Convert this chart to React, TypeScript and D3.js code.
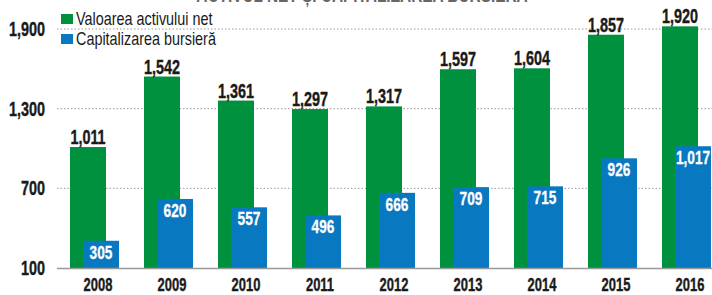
import React, { useEffect, useRef } from "react";
import * as d3 from "d3";

const years = ["2008", "2009", "2010", "2011", "2012", "2013", "2014", "2015", "2016"];
const netAssets = [1011, 1542, 1361, 1297, 1317, 1597, 1604, 1857, 1920];
const marketCap = [305, 620, 557, 496, 666, 709, 715, 926, 1017];
const yTicks = [100, 700, 1300, 1900];
const seriesNames = ["Valoarea activului net", "Capitalizarea bursieră"];

const GREEN = "#00913f";
const BLUE = "#0878c0";
const INK = "#1a1a1a";
const FONT = "'Liberation Sans', Arial, sans-serif";
const SQUEEZE = 0.72; // fake a condensed face

const App = () => {
  const ref = useRef<SVGSVGElement>(null);

  useEffect(() => {
    const width = 712;
    const height = 295;
    const svg = d3.select(ref.current).attr("width", width).attr("height", height);
    svg.selectAll("*").remove();

    const y = d3.scaleLinear().domain([100, 1900]).range([268, 29]);
    const x = d3.scaleBand().domain(years).range([52, 52 + 74 * years.length]).padding(0);
    const fmt = d3.format(",");

    const at = (px: number, py: number, s = SQUEEZE) => `translate(${px},${py}) scale(${s},1)`;

    // title, mostly cut off at the top
    svg
      .append("text")
      .attr("transform", at(362, 1.5, 0.7))
      .attr("text-anchor", "middle")
      .attr("font-family", FONT)
      .attr("font-weight", "bold")
      .attr("font-size", 22)
      .attr("fill", "#666")
      .text("ACTIVUL NET ȘI CAPITALIZAREA BURSIERĂ");

    // gridlines
    svg
      .append("g")
      .selectAll("line")
      .data(yTicks.slice(1))
      .join("line")
      .attr("x1", 57)
      .attr("x2", width)
      .attr("y1", (d) => y(d))
      .attr("y2", (d) => y(d))
      .attr("stroke", "#999")
      .attr("stroke-width", 1)
      .attr("stroke-dasharray", "1.5,2");

    // y labels
    svg
      .append("g")
      .selectAll("text")
      .data(yTicks)
      .join("text")
      .attr("transform", (d) => at(45, y(d) + 7))
      .attr("text-anchor", "end")
      .attr("font-family", FONT)
      .attr("font-weight", "bold")
      .attr("font-size", 20)
      .attr("fill", INK)
      .attr("stroke", INK)
      .attr("stroke-width", 0.4)
      .text((d) => fmt(d));

    // green bars
    svg
      .append("g")
      .selectAll("rect")
      .data(netAssets)
      .join("rect")
      .attr("x", (d, i) => x(years[i])! + 18)
      .attr("y", (d) => y(d))
      .attr("width", 36)
      .attr("height", (d) => y(100) - y(d))
      .attr("fill", GREEN);

    svg
      .append("g")
      .selectAll("text")
      .data(netAssets)
      .join("text")
      .attr("transform", (d, i) => at(x(years[i])! + 36, y(d) - 3))
      .attr("text-anchor", "middle")
      .attr("font-family", FONT)
      .attr("font-weight", "bold")
      .attr("font-size", 20)
      .attr("fill", INK)
      .attr("stroke", INK)
      .attr("stroke-width", 0.4)
      .text((d) => fmt(d));

    // blue bars
    svg
      .append("g")
      .selectAll("rect")
      .data(marketCap)
      .join("rect")
      .attr("x", (d, i) => x(years[i])! + 31)
      .attr("y", (d) => y(d))
      .attr("width", 36)
      .attr("height", (d) => y(100) - y(d))
      .attr("fill", BLUE);

    svg
      .append("g")
      .selectAll("text")
      .data(marketCap)
      .join("text")
      .attr("transform", (d, i) => at(x(years[i])! + 49, y(d) + 18))
      .attr("text-anchor", "middle")
      .attr("font-family", FONT)
      .attr("font-weight", "bold")
      .attr("font-size", 19)
      .attr("fill", "#fff")
      .attr("stroke", "#fff")
      .attr("stroke-width", 0.3)
      .text((d) => fmt(d));

    // baseline
    svg
      .append("line")
      .attr("x1", 57)
      .attr("x2", width)
      .attr("y1", y(100) + 0.5)
      .attr("y2", y(100) + 0.5)
      .attr("stroke", "#999")
      .attr("stroke-width", 1.5);

    // year labels
    svg
      .append("g")
      .selectAll("text")
      .data(years)
      .join("text")
      .attr("transform", (d) => at(x(d)! + 46, 291))
      .attr("text-anchor", "middle")
      .attr("font-family", FONT)
      .attr("font-weight", "bold")
      .attr("font-size", 18)
      .attr("fill", INK)
      .attr("stroke", INK)
      .attr("stroke-width", 0.4)
      .text((d) => d);

    // legend
    const legend = svg
      .append("g")
      .selectAll("g")
      .data(seriesNames)
      .join("g")
      .attr("transform", (d, i) => `translate(61,${14 + i * 20})`);
    legend
      .append("rect")
      .attr("width", 12)
      .attr("height", 10)
      .attr("fill", (d, i) => (i === 0 ? GREEN : BLUE));
    legend
      .append("text")
      .attr("transform", at(15, 11, 0.8))
      .attr("font-family", FONT)
      .attr("font-size", 18)
      .attr("fill", INK)
      .text((d) => d);
  }, []);

  return (
    <div style={{ position: "absolute", left: 0, top: 0 }}>
      <svg ref={ref} style={{ display: "block" }}></svg>
    </div>
  );
};

export default App;
